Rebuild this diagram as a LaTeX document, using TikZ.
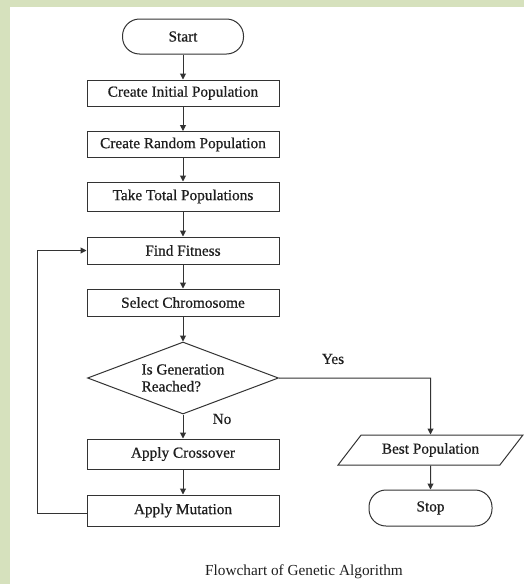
\documentclass[tikz,border=0pt]{standalone}
\usepackage{fontspec}
\setmainfont{Liberation Serif}
\newfontfamily\heavyserif{Liberation Serif}[FakeBold=0.6]
\usetikzlibrary{shapes.geometric,arrows.meta}
\definecolor{framegreen}{HTML}{D6E1BD}
\definecolor{inkgray}{HTML}{333333}
\definecolor{textink}{HTML}{1E1E1E}
\tikzset{
  lbl/.style={font=\heavyserif\fontsize{15.3}{17}\selectfont, text=textink},
  caplbl/.style={font=\fontsize{15.3}{17}\selectfont, text=textink},
  procbox/.style={draw=inkgray, line width=1pt, rectangle, minimum width=192pt, inner sep=0pt, lbl},
  termbox/.style={draw=inkgray, line width=1pt, rectangle, rounded corners=17pt, inner sep=0pt, lbl},
  decbox/.style={draw=inkgray, line width=1pt, diamond, minimum width=191pt, minimum height=72pt, inner sep=0pt, aspect=2.65, lbl, align=left},
  iobox/.style={draw=inkgray, line width=1pt, trapezium, trapezium left angle=40.6, trapezium right angle=139.4, trapezium stretches=true, minimum width=185pt, minimum height=30pt, inner sep=0pt, lbl},
  conn/.style={draw=inkgray, line width=1pt, -{Triangle[length=6pt,width=6pt]}},
}
\begin{document}
\begin{tikzpicture}[x=1pt,y=1pt]
\useasboundingbox (0,0) rectangle (524,-584);
\fill[framegreen] (0,0) rectangle (524,-584);
\fill[white] (10,-7) rectangle (524,-584);

\node[termbox, minimum width=121pt, minimum height=35pt] (start) at (183,-36.5) {Start};
\node[procbox, minimum height=26pt] (init) at (183,-93) {Create Initial Population};
\node[procbox, minimum height=26pt] (rand) at (183,-144.5) {Create Random Population};
\node[procbox, minimum height=29pt] (total) at (183,-196.5) {Take Total Populations};
\node[procbox, minimum height=27pt] (fit) at (183,-250.5) {Find Fitness};
\node[procbox, minimum height=27pt] (sel) at (183,-302.5) {Select Chromosome};
\node[decbox] (dec) at (183,-378) {Is Generation\\Reached?};
\node[procbox, minimum height=30pt] (cross) at (183,-454) {Apply Crossover};
\node[procbox, minimum height=31pt] (mut) at (183,-510.5) {Apply Mutation};
\node[iobox] (best) at (430.5,-450) {Best Population};
\node[termbox, minimum width=123pt, minimum height=36pt] (stop) at (430.5,-508) {Stop};

\coordinate (yescorner) at (430.5,-378);
\coordinate (loopbot) at (37,-513);
\coordinate (looptop) at (37,-250.5);

\draw[conn] (start) -- (init);
\draw[conn] (init) -- (rand);
\draw[conn] (rand) -- (total);
\draw[conn] (total) -- (fit);
\draw[conn] (fit) -- (sel);
\draw[conn] (sel) -- (dec);
\draw[conn] (dec) -- (cross);
\draw[conn] (cross) -- (mut);
\draw[conn] (dec.east) -- (yescorner) -- (best.north);
\draw[conn] (best) -- (stop);
\draw[conn] (mut.west |- loopbot) -- (loopbot) -- (looptop) -- (fit.west);

\node[lbl] (yes) at (333,-359) {Yes};
\node[lbl] (no) at (222,-419) {No};
\node[caplbl] (cap) at (304,-572) {Flowchart of Genetic Algorithm};
\end{tikzpicture}
\end{document}
